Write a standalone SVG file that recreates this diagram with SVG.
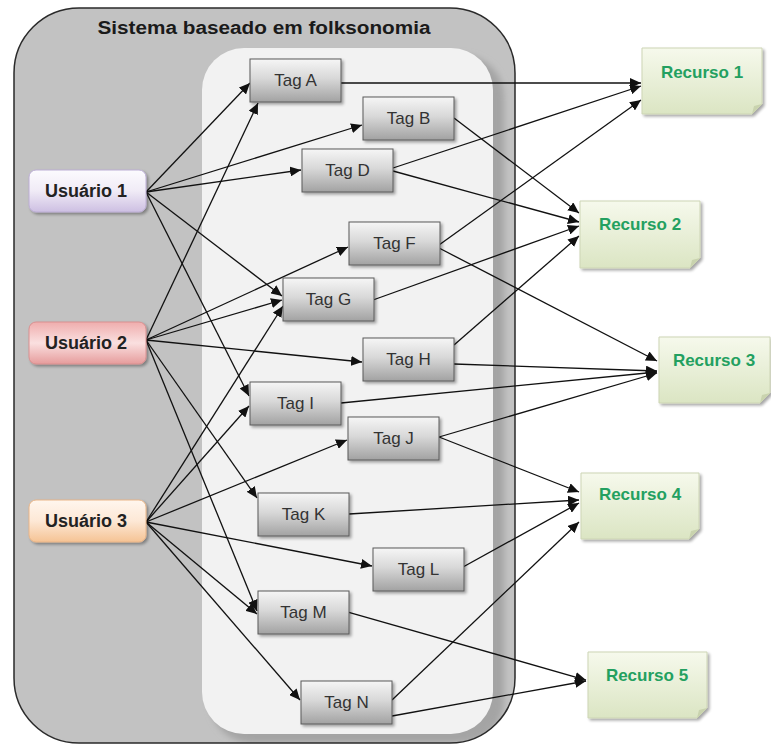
<svg xmlns="http://www.w3.org/2000/svg" width="771" height="747" viewBox="0 0 771 747">
<defs>
<style>
.tagbox{fill:url(#gTag);stroke:#5a5a5a;stroke-width:1;filter:url(#sh)}
.tagtxt{font-family:"Liberation Sans",Arial,sans-serif;font-size:17px;fill:#333;text-anchor:middle}
.usrtxt{font-family:"Liberation Sans",Arial,sans-serif;font-size:18px;font-weight:bold;fill:#222;text-anchor:middle}
.restxt{font-family:"Liberation Sans",Arial,sans-serif;font-size:17px;font-weight:bold;fill:#23a060;text-anchor:middle}
.res{fill:url(#gRes);stroke:#cdd5b5;stroke-width:1;filter:url(#sh)}
.fold{fill:#c9d3ae}
.conn line{stroke:#111;stroke-width:1.3;marker-end:url(#arr)}
</style>
<linearGradient id="gTag" x1="0" y1="0" x2="0" y2="1"><stop offset="0" stop-color="#f6f6f6"/><stop offset="0.45" stop-color="#d8d8d8"/><stop offset="1" stop-color="#a2a2a2"/></linearGradient>
<linearGradient id="gU1" x1="0" y1="0" x2="0" y2="1"><stop offset="0" stop-color="#fcfbfe"/><stop offset="0.5" stop-color="#f0ebf6"/><stop offset="1" stop-color="#cdbfe2"/></linearGradient>
<linearGradient id="gU2" x1="0" y1="0" x2="0" y2="1"><stop offset="0" stop-color="#efadad"/><stop offset="0.5" stop-color="#fae0e0"/><stop offset="1" stop-color="#e69c9c"/></linearGradient>
<linearGradient id="gU3" x1="0" y1="0" x2="0" y2="1"><stop offset="0" stop-color="#fff6ee"/><stop offset="0.5" stop-color="#fde8d6"/><stop offset="1" stop-color="#f5c394"/></linearGradient>
<linearGradient id="gRes" x1="0" y1="0" x2="0" y2="1"><stop offset="0" stop-color="#f6f9ec"/><stop offset="1" stop-color="#dbe5c3"/></linearGradient>
<filter id="sh" x="-10%" y="-10%" width="130%" height="140%"><feGaussianBlur in="SourceAlpha" stdDeviation="1.5"/><feOffset dx="1.5" dy="2" result="b"/><feComponentTransfer><feFuncA type="linear" slope="0.35"/></feComponentTransfer><feMerge><feMergeNode/><feMergeNode in="SourceGraphic"/></feMerge></filter>
<filter id="blur"><feGaussianBlur stdDeviation="3"/></filter>
<clipPath id="outerClip"><rect x="14" y="8" width="501" height="735" rx="65"/></clipPath>
<marker id="arr" markerUnits="userSpaceOnUse" markerWidth="12" markerHeight="10" refX="11" refY="5" orient="auto"><path d="M0,0 L11,5 L0,10 z" fill="#111"/></marker>
</defs>

<g id="container">
<rect x="14" y="8" width="501" height="735" rx="65" fill="#c2c2c2"/>
<g clip-path="url(#outerClip)">
<rect x="210" y="55" width="294" height="688" rx="42" fill="#a4a4a4" filter="url(#blur)"/>
</g>
<rect x="202" y="48" width="291" height="686" rx="42" fill="#f2f2f2"/>
<rect x="14" y="8" width="501" height="735" rx="65" fill="none" stroke="#2a2a2a" stroke-width="1.5"/>
<text x="264" y="34" font-family="'Liberation Sans',Arial,sans-serif" font-size="18" font-weight="bold" fill="#1a1a1a" text-anchor="middle" textLength="333" lengthAdjust="spacingAndGlyphs">Sistema baseado em folksonomia</text>
</g>

<g id="connectors" class="conn">
<line x1="146" y1="192" x2="250" y2="83"/>
<line x1="146" y1="192" x2="362" y2="125"/>
<line x1="146" y1="192" x2="301" y2="170"/>
<line x1="146" y1="192" x2="282" y2="296"/>
<line x1="146" y1="192" x2="249" y2="396"/>
<line x1="146" y1="340" x2="258" y2="103"/>
<line x1="146" y1="340" x2="348" y2="247"/>
<line x1="146" y1="340" x2="282" y2="300"/>
<line x1="146" y1="340" x2="362" y2="362"/>
<line x1="146" y1="340" x2="257" y2="498"/>
<line x1="146" y1="340" x2="257" y2="611"/>
<line x1="146" y1="522" x2="283" y2="306"/>
<line x1="146" y1="522" x2="249" y2="406"/>
<line x1="146" y1="522" x2="347" y2="440"/>
<line x1="146" y1="522" x2="372" y2="566"/>
<line x1="146" y1="522" x2="257" y2="614"/>
<line x1="146" y1="522" x2="300" y2="700"/>
<line x1="341" y1="83" x2="641" y2="83"/>
<line x1="393" y1="168" x2="641" y2="86"/>
<line x1="439" y1="245" x2="641" y2="100"/>
<line x1="454" y1="118" x2="579" y2="213"/>
<line x1="393" y1="171" x2="579" y2="222"/>
<line x1="373" y1="300" x2="579" y2="226"/>
<line x1="454" y1="345" x2="579" y2="236"/>
<line x1="439" y1="248" x2="657" y2="361"/>
<line x1="454" y1="364" x2="657" y2="371"/>
<line x1="341" y1="403" x2="657" y2="372"/>
<line x1="439" y1="437" x2="657" y2="373"/>
<line x1="439" y1="437" x2="579" y2="492"/>
<line x1="349" y1="514" x2="579" y2="500"/>
<line x1="463" y1="567" x2="579" y2="503"/>
<line x1="392" y1="700" x2="579" y2="522"/>
<line x1="348" y1="612" x2="586" y2="680"/>
<line x1="392" y1="716" x2="586" y2="681"/>
</g>

<g id="usuario1"><rect x="29" y="170" width="117" height="42" rx="7" fill="url(#gU1)" stroke="#bcaed4" filter="url(#sh)"/><text class="usrtxt" x="86" y="197">Usuário 1</text></g>
<g id="usuario2"><rect x="29" y="322" width="117" height="42" rx="7" fill="url(#gU2)" stroke="#d99090" filter="url(#sh)"/><text class="usrtxt" x="86" y="349">Usuário 2</text></g>
<g id="usuario3"><rect x="29" y="500" width="117" height="42" rx="7" fill="url(#gU3)" stroke="#e9b588" filter="url(#sh)"/><text class="usrtxt" x="86" y="527">Usuário 3</text></g>

<g id="tagA"><rect class="tagbox" x="250" y="59" width="91" height="43"/><text class="tagtxt" x="295.5" y="86">Tag A</text></g>
<g id="tagB"><rect class="tagbox" x="363" y="97" width="91" height="43"/><text class="tagtxt" x="408.5" y="124">Tag B</text></g>
<g id="tagD"><rect class="tagbox" x="302" y="149" width="91" height="43"/><text class="tagtxt" x="347.5" y="176">Tag D</text></g>
<g id="tagF"><rect class="tagbox" x="349" y="222" width="91" height="43"/><text class="tagtxt" x="394.5" y="249">Tag F</text></g>
<g id="tagG"><rect class="tagbox" x="283" y="278" width="91" height="43"/><text class="tagtxt" x="328.5" y="305">Tag G</text></g>
<g id="tagH"><rect class="tagbox" x="363" y="338" width="91" height="43"/><text class="tagtxt" x="408.5" y="365">Tag H</text></g>
<g id="tagI"><rect class="tagbox" x="250" y="382" width="91" height="43"/><text class="tagtxt" x="295.5" y="409">Tag I</text></g>
<g id="tagJ"><rect class="tagbox" x="348" y="417" width="91" height="43"/><text class="tagtxt" x="393.5" y="444">Tag J</text></g>
<g id="tagK"><rect class="tagbox" x="258" y="493" width="91" height="43"/><text class="tagtxt" x="303.5" y="520">Tag K</text></g>
<g id="tagL"><rect class="tagbox" x="373" y="548" width="91" height="43"/><text class="tagtxt" x="418.5" y="575">Tag L</text></g>
<g id="tagM"><rect class="tagbox" x="258" y="591" width="91" height="43"/><text class="tagtxt" x="303.5" y="618">Tag M</text></g>
<g id="tagN"><rect class="tagbox" x="301" y="681" width="91" height="43"/><text class="tagtxt" x="346.5" y="708">Tag N</text></g>

<g id="recurso1"><path class="res" d="M642,48 H762 V104 L752,114 H642 Z"/><path class="fold" d="M762,104 L752,114 L754,106 Z"/><text class="restxt" x="702" y="78">Recurso 1</text></g>
<g id="recurso2"><path class="res" d="M580,201 H700 V258 L690,268 H580 Z"/><path class="fold" d="M700,258 L690,268 L692,260 Z"/><text class="restxt" x="640" y="230">Recurso 2</text></g>
<g id="recurso3"><path class="res" d="M659,337 H770 V393 L760,403 H659 Z"/><path class="fold" d="M770,393 L760,403 L762,395 Z"/><text class="restxt" x="714" y="366">Recurso 3</text></g>
<g id="recurso4"><path class="res" d="M581,473 H699 V529 L689,539 H581 Z"/><path class="fold" d="M699,529 L689,539 L691,531 Z"/><text class="restxt" x="640" y="500">Recurso 4</text></g>
<g id="recurso5"><path class="res" d="M588,652 H707 V708 L697,718 H588 Z"/><path class="fold" d="M707,708 L697,718 L699,710 Z"/><text class="restxt" x="647" y="681">Recurso 5</text></g>
</svg>
